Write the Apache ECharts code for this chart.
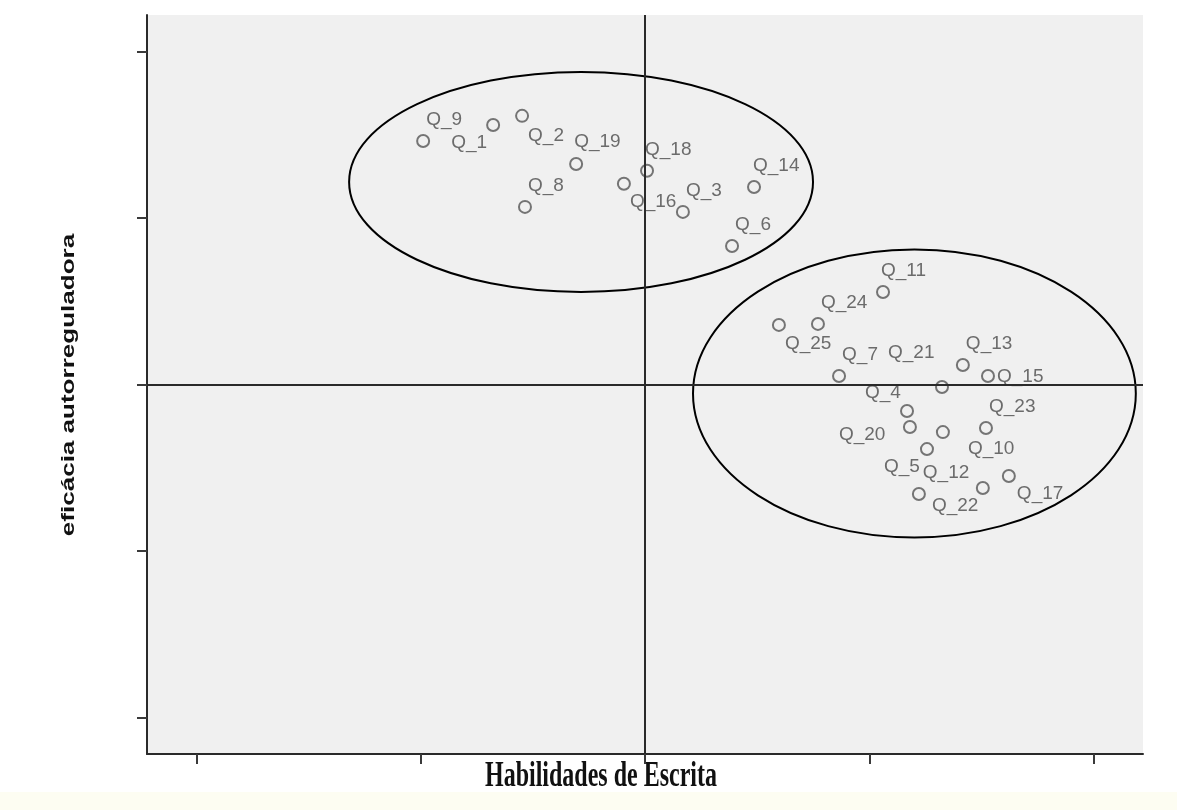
<!DOCTYPE html>
<html><head><meta charset="utf-8">
<script src="https://cdn.jsdelivr.net/npm/echarts/dist/echarts.min.js"></script>
<style>
html,body{margin:0;padding:0;}
body{width:1177px;height:810px;background:linear-gradient(to bottom,#ffffff 0,#ffffff 792px,#fdfdf2 792px);}
#c{width:1177px;height:810px;}
</style>
</head><body><div id="c"></div>
<script>
// Items (questions)
const names = ['Q_1','Q_2','Q_3','Q_4','Q_5','Q_6','Q_7','Q_8','Q_9','Q_10','Q_11','Q_12','Q_13',
  'Q_14','Q_15','Q_16','Q_17','Q_18','Q_19','Q_20','Q_21','Q_22','Q_23','Q_24','Q_25'];
// Habilidades de Escrita (x)
const xValues = [-0.677,-0.548,0.169,1.168,1.257,0.388,0.865,-0.535,-0.989,1.328,1.061,1.506,1.417,
  0.486,1.529,-0.094,1.622,0.009,-0.307,1.181,1.324,1.221,1.520,0.771,0.597];
// eficácia autorreguladora (y)
const yValues = [1.559,1.614,1.037,-0.159,-0.388,0.832,0.051,1.067,1.463,-0.286,0.556,-0.622,0.117,
  1.187,0.051,1.206,-0.550,1.284,1.325,-0.255,-0.015,-0.658,-0.261,0.364,0.358];
// tick positions (unlabelled)
const xTicks = [-2,-1,0,1,2];
const yTicks = [-2,-1,0,1,2];
// group ellipses (data units): centre x, centre y, radius x, radius y
const ellipseCx = [-0.285, 1.201];
const ellipseCy = [1.217, -0.054];
const ellipseRx = [1.034, 0.987];
const ellipseRy = [0.661, 0.865];

// label placement (style), default upper-right
const labelOffsets = {
  'Q_1':[-42,18],'Q_2':[6,20],'Q_16':[6,18],'Q_19':[-2,-22],'Q_18':[-2,-21],'Q_14':[-1,-21],
  'Q_11':[-2,-21],'Q_25':[6,19],'Q_21':[-54,-34],'Q_15':[9,1],'Q_4':[-42,-18],'Q_20':[-71,8],
  'Q_10':[25,17],'Q_5':[-43,18],'Q_12':[-60,-15],'Q_17':[8,18],'Q_22':[13,12]
};

const chart = echarts.init(document.getElementById('c'), null, {renderer:'canvas'});
const axisCommon = (ticks) => ({
  type:'value', min:-2.22, max:2.22,
  splitLine:{show:false},
  axisLabel:{show:false},
  axisLine:{show:true, onZero:false, lineStyle:{color:'#2a2a2a', width:2}},
  axisTick:{show:true, inside:false, length:10, customValues:ticks, lineStyle:{color:'#3a3a3a', width:2}}
});
chart.setOption({
  animation:false,
  backgroundColor:'transparent',
  grid:{left:147, right:34, top:15, bottom:56, show:true, backgroundColor:'#f0f0f0', borderWidth:0},
  xAxis: axisCommon(xTicks),
  yAxis: axisCommon(yTicks),
  graphic:[
    {type:'text', x:69, y:385, rotation:Math.PI/2, scaleX:1.37,
     style:{text:'eficácia autorreguladora', font:'bold 19px "Liberation Sans", Arial, sans-serif',
            fill:'#111', align:'center', verticalAlign:'middle'}},
    {type:'text', x:601, y:777, scaleY:1.45,
     style:{text:'Habilidades de Escrita', font:'bold 24px "Liberation Serif", "Times New Roman", serif',
            fill:'#111', align:'center', verticalAlign:'middle'}}
  ],
  series:[
    {
      type:'custom', silent:true, clip:false,
      data: ellipseCx.map((cx,i)=>[cx, ellipseCy[i], ellipseRx[i], ellipseRy[i]]),
      encode:{x:0, y:1},
      renderItem:(params, api)=>{
        const c = api.coord([api.value(0), api.value(1)]);
        const s = api.size([api.value(2), api.value(3)]);
        return {type:'ellipse', shape:{cx:c[0], cy:c[1], rx:s[0], ry:s[1]},
                style:{fill:'none', stroke:'#000', lineWidth:2}};
      },
      z:3
    },
    {
      type:'scatter', z:4,
      symbol:'circle', symbolSize:12,
      itemStyle:{color:'rgba(0,0,0,0)', borderColor:'#555', borderWidth:2},
      emphasis:{disabled:true},
      label:{show:true, formatter:'{b}', position:'inside', align:'left', verticalAlign:'middle',
             color:'#4a4a4a', fontSize:19, fontFamily:'"Liberation Sans", Arial, sans-serif'},
      data: names.map((n,i)=>({name:n, value:[xValues[i], yValues[i]],
                               label:{offset: labelOffsets[n] || [3,-21]}})),
      markLine:{silent:true, symbol:['none','none'], label:{show:false},
                lineStyle:{color:'#2a2a2a', width:2, type:'solid'},
                emphasis:{disabled:true},
                data:[{xAxis:0},{yAxis:0}]}
    }
  ]
});
</script>
</body></html>
